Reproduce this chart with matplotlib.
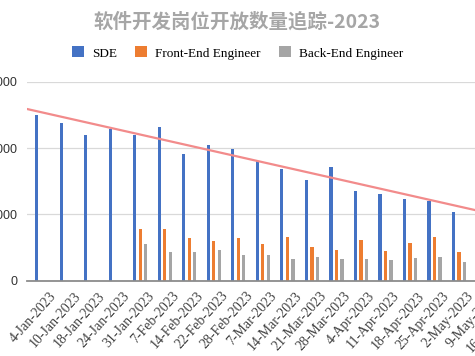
import numpy as np
import matplotlib.pyplot as plt
import matplotlib.transforms as mtransforms
from matplotlib.patches import Patch

dates = ['4-Jan-2023', '10-Jan-2023', '18-Jan-2023', '24-Jan-2023', '31-Jan-2023',
         '7-Feb-2023', '14-Feb-2023', '22-Feb-2023', '28-Feb-2023', '7-Mar-2023',
         '14-Mar-2023', '21-Mar-2023', '28-Mar-2023', '4-Apr-2023', '11-Apr-2023',
         '18-Apr-2023', '25-Apr-2023', '2-May-2023', '9-May-2023', '16-May-2023']

sde = [2507, 2376, 2195, 2290, 2200, 2326, 1914, 2045, 1980, 1800,
       1684, 1519, 1714, 1353, 1304, 1238, 1208, 1038, 1000, 950]
front_end = [0, 0, 0, 0, 773, 773, 642, 592, 642, 547,
             662, 511, 461, 607, 441, 562, 662, 426, 450, 420]
back_end = [0, 0, 0, 0, 556, 435, 435, 456, 390, 390,
            325, 360, 325, 325, 310, 340, 360, 275, 300, 280]

# linear trend line end values (left and right edge of the category axis)
trend_vals = [2592, 920]

series_names = ['SDE', 'Front-End Engineer', 'Back-End Engineer']
colors = ['#4472C4', '#ED7D31', '#A5A5A5']

fig = plt.figure(figsize=(4.75, 3.56), dpi=100)
W, H = 475, 356
left_px, right_px = 27, 27 + 20 * 24.52
bot_px, top_px = 280.5, 82
ax = fig.add_axes([left_px / W, 1 - bot_px / H, (right_px - left_px) / W, (bot_px - top_px) / H])

x = np.arange(len(dates))
bw = 0.13
offsets = [-0.105, 0.12, 0.345]
for vals, off, c in zip([sde, front_end, back_end], offsets, colors):
    ax.bar(x + off, vals, width=bw, color=c, zorder=2)

ax.plot([-0.5, len(dates) - 0.5], trend_vals, color='#f28b8b', lw=1.6, zorder=3)

ax.set_xlim(-0.5, len(dates) - 0.5)
ax.set_ylim(0, 3000)
ax.set_yticks([0, 1000, 2000, 3000])
ax.grid(axis='y', color='#d9d9d9', lw=0.9, zorder=0)
for s in ['top', 'right', 'left']:
    ax.spines[s].set_visible(False)
ax.spines['bottom'].set_color('#8c8c8c')
ax.spines['bottom'].set_linewidth(1.3)
ax.spines['bottom'].set_zorder(4)
ax.tick_params(axis='both', length=0)
ax.tick_params(axis='y', pad=7, labelsize=9, labelcolor='#333333')
for lab in ax.get_yticklabels():
    lab.set_family('Liberation Sans')

ax.set_xticks(x)
ax.set_xticklabels(dates, rotation=48, ha='right', rotation_mode='anchor',
                   fontsize=10, family='Liberation Serif', color='#404040')
shift = mtransforms.ScaledTranslation(10 / 100, -4 / 100, fig.dpi_scale_trans)
for lab in ax.get_xticklabels():
    lab.set_transform(lab.get_transform() + shift)

fig.text(0.5, 1 - 22 / H, '软件开发岗位开放数量追踪-2023', ha='center', va='center',
         fontsize=14, fontweight='bold', color='#a6a6a6',
         family=['Noto Sans CJK SC', 'DejaVu Sans'])

handles = [Patch(facecolor=c, edgecolor='none') for c in colors]
fig.legend(handles, series_names, loc='center', bbox_to_anchor=(0.5, 1 - 53 / H),
           ncol=3, frameon=False, handlelength=0.9, handleheight=0.9,
           handletextpad=0.6, columnspacing=1.4,
           prop={'family': 'Liberation Serif', 'size': 9.5})

fig.savefig('out.png', dpi=100)
